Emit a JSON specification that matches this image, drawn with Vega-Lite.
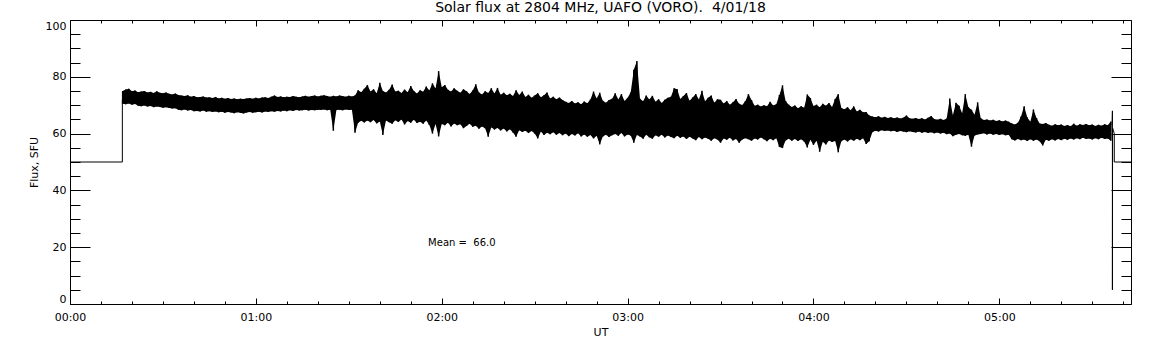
{
 "$schema": "https://vega.github.io/schema/vega-lite/v6.json",
 "width": 1061,
 "height": 284,
 "autosize": {"type": "none"},
 "padding": {"left": 70, "top": 20, "right": 21, "bottom": 41},
 "background": "white",
 "title": {"text": "Solar flux at 2804 MHz, UAFO (VORO).\u00a0 4/01/18", "font": "DejaVu Sans", "fontSize": 14, "fontWeight": "normal", "color": "black", "anchor": "middle", "baseline": "alphabetic", "offset": -6},
 "config": {
  "view": {"stroke": null},
  "axis": {"domainColor": "black", "tickColor": "black", "labelColor": "black", "titleColor": "black", "labelFont": "DejaVu Sans", "titleFont": "DejaVu Sans", "labelFontSize": 11, "titleFontSize": 11, "titleFontWeight": "normal", "grid": false, "tickWidth": 1, "domainWidth": 1, "labelOverlap": false}
 },
 "datasets": {
  "env": [
   {"m":17,"lo":70.5,"hi":75.0},{"m":18,"lo":70.3,"hi":75.5},{"m":19,"lo":70.6,"hi":75.8},{"m":20,"lo":70.2,"hi":74.9},{"m":21,"lo":70.4,"hi":75.2},
   {"m":22,"lo":69.8,"hi":74.6},{"m":23,"lo":69.6,"hi":74.8},{"m":24,"lo":69.9,"hi":75.0},{"m":25,"lo":69.5,"hi":74.5},{"m":26,"lo":69.7,"hi":74.7},
   {"m":27,"lo":69.3,"hi":74.3},{"m":28,"lo":69.5,"hi":74.9},{"m":29,"lo":69.4,"hi":74.4},{"m":30,"lo":69.1,"hi":74.2},{"m":31,"lo":69.3,"hi":74.5},
   {"m":32,"lo":69.0,"hi":74.0},{"m":33,"lo":68.8,"hi":73.8},{"m":34,"lo":68.9,"hi":74.1},{"m":35,"lo":68.4,"hi":73.6},{"m":36,"lo":68.2,"hi":73.4},
   {"m":37,"lo":68.5,"hi":73.2},{"m":38,"lo":68.1,"hi":73.5},{"m":39,"lo":68.3,"hi":73.0},{"m":40,"lo":67.9,"hi":73.2},{"m":41,"lo":68.0,"hi":72.8},
   {"m":42,"lo":67.8,"hi":72.9},{"m":43,"lo":68.1,"hi":73.1},{"m":44,"lo":67.7,"hi":72.7},{"m":45,"lo":67.9,"hi":72.8},{"m":46,"lo":67.6,"hi":72.5},
   {"m":47,"lo":67.8,"hi":72.9},{"m":48,"lo":67.5,"hi":72.4},{"m":49,"lo":67.7,"hi":72.6},{"m":50,"lo":67.3,"hi":72.3},{"m":51,"lo":67.6,"hi":72.5},
   {"m":52,"lo":67.4,"hi":72.2},{"m":53,"lo":67.2,"hi":72.4},{"m":54,"lo":67.5,"hi":72.1},{"m":55,"lo":67.3,"hi":72.3},{"m":56,"lo":67.1,"hi":72.2},
   {"m":57,"lo":67.4,"hi":72.4},{"m":58,"lo":67.6,"hi":72.5},{"m":59,"lo":67.3,"hi":72.3},{"m":60,"lo":67.5,"hi":72.6},{"m":61,"lo":67.7,"hi":72.4},
   {"m":62,"lo":67.4,"hi":72.7},{"m":63,"lo":67.8,"hi":72.8},{"m":64,"lo":67.6,"hi":72.5},{"m":65,"lo":67.9,"hi":73.0},{"m":66,"lo":67.7,"hi":73.4},
   {"m":67,"lo":68.0,"hi":72.9},{"m":68,"lo":67.8,"hi":73.1},{"m":69,"lo":68.1,"hi":72.8},{"m":70,"lo":67.9,"hi":73.0},{"m":71,"lo":68.2,"hi":72.9},
   {"m":72,"lo":68.0,"hi":73.2},{"m":73,"lo":68.3,"hi":73.0},{"m":74,"lo":68.1,"hi":72.8},{"m":75,"lo":68.2,"hi":73.1},{"m":76,"lo":68.4,"hi":73.3},
   {"m":77,"lo":68.1,"hi":73.0},{"m":78,"lo":68.3,"hi":73.2},{"m":79,"lo":68.2,"hi":73.4},{"m":80,"lo":68.4,"hi":73.1},{"m":81,"lo":68.3,"hi":73.3},
   {"m":82,"lo":68.5,"hi":73.5},{"m":83,"lo":68.2,"hi":73.2},{"m":84,"lo":68.4,"hi":73.0},{"m":85,"lo":61.0,"hi":73.3},{"m":86,"lo":68.3,"hi":73.1},
   {"m":87,"lo":68.4,"hi":73.4},{"m":88,"lo":68.2,"hi":73.2},{"m":89,"lo":68.5,"hi":73.0},{"m":90,"lo":68.3,"hi":73.3},{"m":91,"lo":68.4,"hi":73.1},
   {"m":92,"lo":60.3,"hi":73.4},
   {"m":93,"lo":63.8,"hi":75.3},{"m":94,"lo":64.5,"hi":74.6},{"m":95,"lo":63.9,"hi":75.8},{"m":96,"lo":64.6,"hi":77.1},{"m":97,"lo":64.0,"hi":74.8},
   {"m":98,"lo":64.8,"hi":75.6},{"m":99,"lo":63.6,"hi":74.2},{"m":100,"lo":64.3,"hi":77.9},{"m":101,"lo":59.5,"hi":75.0},{"m":102,"lo":64.6,"hi":74.5},
   {"m":103,"lo":64.0,"hi":75.4},{"m":104,"lo":63.5,"hi":77.3},{"m":105,"lo":64.7,"hi":74.8},{"m":106,"lo":64.1,"hi":75.1},{"m":107,"lo":65.0,"hi":74.3},
   {"m":108,"lo":63.2,"hi":75.5},{"m":109,"lo":64.4,"hi":74.6},{"m":110,"lo":63.8,"hi":76.8},{"m":111,"lo":64.9,"hi":75.0},{"m":112,"lo":63.7,"hi":74.1},
   {"m":113,"lo":64.2,"hi":75.3},{"m":114,"lo":63.5,"hi":74.7},{"m":115,"lo":64.6,"hi":76.6},{"m":116,"lo":63.0,"hi":75.2},{"m":117,"lo":60.0,"hi":77.7},
   {"m":118,"lo":63.4,"hi":75.9},{"m":119,"lo":59.0,"hi":82.0},{"m":120,"lo":63.4,"hi":76.3},{"m":121,"lo":62.9,"hi":77.1},{"m":122,"lo":63.8,"hi":75.4},
   {"m":123,"lo":62.5,"hi":74.8},{"m":124,"lo":63.6,"hi":76.0},{"m":125,"lo":62.9,"hi":75.1},{"m":126,"lo":63.3,"hi":74.4},{"m":127,"lo":61.9,"hi":75.6},
   {"m":128,"lo":62.7,"hi":74.9},{"m":129,"lo":63.5,"hi":73.9},{"m":130,"lo":62.4,"hi":75.2},{"m":131,"lo":62.8,"hi":77.4},{"m":132,"lo":61.7,"hi":74.5},
   {"m":133,"lo":62.5,"hi":73.8},{"m":134,"lo":61.9,"hi":74.9},{"m":135,"lo":58.9,"hi":74.3},{"m":136,"lo":62.2,"hi":76.0},{"m":137,"lo":61.4,"hi":74.1},
   {"m":138,"lo":62.0,"hi":76.1},{"m":139,"lo":61.1,"hi":73.7},{"m":140,"lo":61.8,"hi":74.4},{"m":141,"lo":60.7,"hi":73.5},{"m":142,"lo":61.5,"hi":74.0},
   {"m":143,"lo":60.4,"hi":73.2},{"m":144,"lo":58.9,"hi":75.3},{"m":145,"lo":61.2,"hi":73.6},{"m":146,"lo":60.6,"hi":74.8},{"m":147,"lo":61.0,"hi":72.9},
   {"m":148,"lo":60.2,"hi":73.7},{"m":149,"lo":60.9,"hi":72.6},{"m":150,"lo":60.0,"hi":73.4},{"m":151,"lo":58.3,"hi":74.2},{"m":152,"lo":60.7,"hi":72.8},
   {"m":153,"lo":59.5,"hi":73.5},{"m":154,"lo":60.3,"hi":74.5},{"m":155,"lo":59.8,"hi":72.4},{"m":156,"lo":60.5,"hi":73.0},{"m":157,"lo":59.6,"hi":72.1},
   {"m":158,"lo":60.2,"hi":72.7},{"m":159,"lo":59.4,"hi":71.8},{"m":160,"lo":60.0,"hi":71.2},{"m":161,"lo":59.1,"hi":70.8},{"m":162,"lo":59.9,"hi":71.5},
   {"m":163,"lo":59.3,"hi":70.6},{"m":164,"lo":60.1,"hi":71.0},{"m":165,"lo":59.0,"hi":70.3},{"m":166,"lo":59.7,"hi":71.3},{"m":167,"lo":58.9,"hi":70.7},
   {"m":168,"lo":59.5,"hi":72.0},{"m":169,"lo":58.3,"hi":74.8},{"m":170,"lo":59.2,"hi":72.4},{"m":171,"lo":56.2,"hi":74.4},{"m":172,"lo":59.0,"hi":71.6},
   {"m":173,"lo":59.6,"hi":70.9},{"m":174,"lo":58.8,"hi":71.8},{"m":175,"lo":59.4,"hi":72.3},{"m":176,"lo":59.9,"hi":74.2},{"m":177,"lo":59.2,"hi":72.0},
   {"m":178,"lo":60.2,"hi":73.9},{"m":179,"lo":59.0,"hi":71.5},{"m":180,"lo":59.7,"hi":72.6},{"m":181,"lo":59.3,"hi":74.5},{"m":182,"lo":56.8,"hi":82.5},
   {"m":183,"lo":59.5,"hi":85.6},{"m":184,"lo":59.0,"hi":72.3},{"m":185,"lo":58.2,"hi":71.4},{"m":186,"lo":59.6,"hi":73.4},{"m":187,"lo":58.7,"hi":72.0},
   {"m":188,"lo":58.2,"hi":73.3},{"m":189,"lo":59.4,"hi":71.2},{"m":190,"lo":58.9,"hi":72.1},{"m":191,"lo":59.6,"hi":70.8},{"m":192,"lo":58.6,"hi":71.9},
   {"m":193,"lo":59.3,"hi":72.6},{"m":194,"lo":58.8,"hi":73.0},{"m":195,"lo":58.4,"hi":76.0},{"m":196,"lo":59.2,"hi":75.6},{"m":197,"lo":58.5,"hi":72.2},
   {"m":198,"lo":59.0,"hi":73.2},{"m":199,"lo":58.1,"hi":74.3},{"m":200,"lo":58.9,"hi":71.6},{"m":201,"lo":58.3,"hi":72.7},{"m":202,"lo":57.7,"hi":73.9},
   {"m":203,"lo":58.8,"hi":72.0},{"m":204,"lo":58.0,"hi":75.1},{"m":205,"lo":58.6,"hi":71.4},{"m":206,"lo":58.2,"hi":72.6},{"m":207,"lo":57.5,"hi":73.4},
   {"m":208,"lo":58.4,"hi":70.9},{"m":209,"lo":57.9,"hi":72.1},{"m":210,"lo":56.8,"hi":71.9},{"m":211,"lo":58.3,"hi":70.6},{"m":212,"lo":57.8,"hi":71.5},
   {"m":213,"lo":58.5,"hi":70.2},{"m":214,"lo":57.6,"hi":71.0},{"m":215,"lo":58.1,"hi":72.2},{"m":216,"lo":56.8,"hi":70.5},{"m":217,"lo":57.9,"hi":70.1},
   {"m":218,"lo":58.4,"hi":71.4},{"m":219,"lo":58.0,"hi":73.9},{"m":220,"lo":57.5,"hi":71.8},{"m":221,"lo":58.3,"hi":69.8},{"m":222,"lo":57.9,"hi":70.2},
   {"m":223,"lo":58.6,"hi":69.5},{"m":224,"lo":58.0,"hi":70.0},{"m":225,"lo":57.3,"hi":69.6},{"m":226,"lo":58.2,"hi":71.2},{"m":227,"lo":57.7,"hi":69.9},
   {"m":228,"lo":58.4,"hi":70.3},{"m":229,"lo":55.3,"hi":73.6},{"m":230,"lo":54.9,"hi":77.0},{"m":231,"lo":57.6,"hi":71.5},{"m":232,"lo":58.2,"hi":70.2},
   {"m":233,"lo":57.5,"hi":69.4},{"m":234,"lo":58.1,"hi":69.9},{"m":235,"lo":57.4,"hi":68.9},{"m":236,"lo":58.0,"hi":69.6},{"m":237,"lo":57.2,"hi":69.1},
   {"m":238,"lo":55.1,"hi":73.8},{"m":239,"lo":57.8,"hi":72.5},{"m":240,"lo":56.0,"hi":69.7},{"m":241,"lo":57.5,"hi":70.2},{"m":242,"lo":53.6,"hi":69.3},
   {"m":243,"lo":57.1,"hi":70.5},{"m":244,"lo":56.2,"hi":69.8},{"m":245,"lo":57.6,"hi":70.8},{"m":246,"lo":57.0,"hi":69.4},{"m":247,"lo":57.4,"hi":72.2},
   {"m":248,"lo":53.4,"hi":73.9},{"m":249,"lo":57.3,"hi":69.0},{"m":250,"lo":57.9,"hi":68.6},{"m":251,"lo":57.2,"hi":69.3},{"m":252,"lo":58.0,"hi":68.2},
   {"m":253,"lo":57.5,"hi":69.6},{"m":254,"lo":58.2,"hi":67.8},{"m":255,"lo":57.7,"hi":68.4},{"m":256,"lo":58.4,"hi":67.5},{"m":257,"lo":56.3,"hi":67.6},
   {"m":258,"lo":57.3,"hi":66.4},
   {"m":259,"lo":60.5,"hi":66.0},{"m":260,"lo":61.0,"hi":65.8},{"m":261,"lo":60.7,"hi":66.1},{"m":262,"lo":61.2,"hi":65.6},{"m":263,"lo":60.9,"hi":65.9},
   {"m":264,"lo":61.1,"hi":65.5},{"m":265,"lo":60.8,"hi":65.8},{"m":266,"lo":61.0,"hi":65.4},{"m":267,"lo":60.6,"hi":65.7},{"m":268,"lo":60.9,"hi":65.3},
   {"m":269,"lo":60.7,"hi":65.6},{"m":270,"lo":60.5,"hi":66.4},{"m":271,"lo":60.8,"hi":65.4},{"m":272,"lo":60.6,"hi":65.2},{"m":273,"lo":60.4,"hi":65.5},
   {"m":274,"lo":60.7,"hi":65.1},{"m":275,"lo":60.3,"hi":65.4},{"m":276,"lo":60.6,"hi":65.0},{"m":277,"lo":60.2,"hi":65.6},{"m":278,"lo":60.5,"hi":66.2},
   {"m":279,"lo":60.1,"hi":65.1},{"m":280,"lo":60.4,"hi":64.9},{"m":281,"lo":60.0,"hi":65.2},{"m":282,"lo":60.3,"hi":64.8},{"m":283,"lo":59.8,"hi":65.3},
   {"m":284,"lo":60.0,"hi":72.4},{"m":285,"lo":59.1,"hi":66.5},{"m":286,"lo":59.6,"hi":70.9},{"m":287,"lo":59.9,"hi":69.8},{"m":288,"lo":59.4,"hi":67.2},
   {"m":289,"lo":59.2,"hi":73.9},{"m":290,"lo":59.6,"hi":69.3},{"m":291,"lo":55.4,"hi":68.4},{"m":292,"lo":59.3,"hi":66.6},{"m":293,"lo":59.7,"hi":71.0},
   {"m":294,"lo":59.9,"hi":65.4},{"m":295,"lo":60.1,"hi":64.8},{"m":296,"lo":59.7,"hi":65.0},{"m":297,"lo":60.0,"hi":64.6},{"m":298,"lo":59.6,"hi":64.9},
   {"m":299,"lo":59.9,"hi":64.4},{"m":300,"lo":59.5,"hi":64.7},{"m":301,"lo":59.8,"hi":64.3},{"m":302,"lo":59.4,"hi":64.6},{"m":303,"lo":59.6,"hi":64.2},
   {"m":304,"lo":58.0,"hi":63.6},{"m":305,"lo":57.6,"hi":63.2},{"m":306,"lo":58.1,"hi":63.8},{"m":307,"lo":57.7,"hi":66.0},{"m":308,"lo":57.9,"hi":69.6},
   {"m":309,"lo":57.4,"hi":65.8},{"m":310,"lo":58.0,"hi":64.2},{"m":311,"lo":57.5,"hi":68.5},{"m":312,"lo":57.9,"hi":65.5},{"m":313,"lo":57.3,"hi":63.6},
   {"m":314,"lo":55.8,"hi":63.4},{"m":315,"lo":57.8,"hi":63.7},{"m":316,"lo":57.5,"hi":63.1},{"m":317,"lo":58.0,"hi":62.8},{"m":318,"lo":57.6,"hi":63.3},
   {"m":319,"lo":58.1,"hi":62.9},{"m":320,"lo":57.7,"hi":63.2},{"m":321,"lo":58.2,"hi":62.7},{"m":322,"lo":57.8,"hi":63.0},{"m":323,"lo":58.3,"hi":62.6},
   {"m":324,"lo":57.9,"hi":63.5},{"m":325,"lo":58.4,"hi":62.8},{"m":326,"lo":58.0,"hi":63.3},{"m":327,"lo":58.5,"hi":63.0},{"m":328,"lo":58.1,"hi":63.4},
   {"m":329,"lo":58.3,"hi":62.9},{"m":330,"lo":57.9,"hi":63.2},{"m":331,"lo":58.4,"hi":62.7},{"m":332,"lo":58.0,"hi":63.1},{"m":333,"lo":58.5,"hi":62.8},
   {"m":334,"lo":58.1,"hi":63.3},{"m":335,"lo":58.3,"hi":62.9},{"m":336,"lo":57.5,"hi":64.3}
  ],
  "steps": [
   {"i":1,"seg":"start","m":0,"v":50},{"i":2,"seg":"start","m":16.9,"v":50},{"i":3,"seg":"start","m":16.9,"v":72},
   {"i":4,"seg":"end","m":336.4,"v":63},{"i":5,"seg":"end","m":336.5,"v":68},{"i":6,"seg":"end","m":336.5,"v":5},{"i":7,"seg":"end","m":336.55,"v":62},
   {"i":8,"seg":"end","m":337.1,"v":60},{"i":9,"seg":"end","m":337.1,"v":50},{"i":10,"seg":"end","m":342.5,"v":50}
  ],
  "note": [{"m":115.6,"v":21.5,"label":"Mean =\u00a0\u00a066.0"}]
 },
 "layer": [
  {
   "data": {"name": "env"},
   "mark": {"type": "area", "color": "black", "opacity": 1, "interpolate": "linear"},
   "encoding": {
    "x": {"field": "m", "type": "quantitative", "scale": {"domain": [0, 342.5], "nice": false, "zero": false},
      "axis": {"orient": "bottom", "values": [0, 60, 120, 180, 240, 300], "labelExpr": "'0' + floor(datum.value / 60) + ':00'", "tickSize": -6, "labelPadding": 13, "labelFlush": false, "title": "UT", "titlePadding": 4}},
    "y": {"field": "lo", "type": "quantitative", "scale": {"domain": [0, 100], "nice": false, "zero": false},
      "axis": {"orient": "left", "values": [0, 20, 40, 60, 80, 100], "tickSize": -20, "labelPadding": 24, "labelFlush": true, "title": "Flux, SFU", "titlePadding": 6}},
    "y2": {"field": "hi"}
   }
  },
  {
   "data": {"name": "env"},
   "mark": {"type": "rule", "color": "black", "strokeWidth": 1.5},
   "encoding": {
    "x": {"field": "m", "type": "quantitative", "scale": {"domain": [0, 342.5], "nice": false, "zero": false},
      "axis": {"orient": "top", "values": [0, 60, 120, 180, 240, 300], "labels": false, "tickSize": -6, "title": null}},
    "y": {"field": "lo", "type": "quantitative", "scale": {"domain": [0, 100], "nice": false, "zero": false},
      "axis": {"orient": "right", "values": [0, 20, 40, 60, 80, 100], "labels": false, "tickSize": -20, "title": null}},
    "y2": {"field": "hi"}
   }
  },
  {
   "data": {"name": "note"},
   "mark": {"type": "text", "color": "black", "font": "DejaVu Sans", "fontSize": 10, "align": "left", "baseline": "middle"},
   "encoding": {
    "x": {"field": "m", "type": "quantitative", "scale": {"domain": [0, 342.5], "nice": false, "zero": false},
      "axis": {"orient": "bottom", "values": [10,20,30,40,50,70,80,90,100,110,130,140,150,160,170,190,200,210,220,230,250,260,270,280,290,310,320,330,340], "labels": false, "domain": false, "tickSize": -3, "title": null}},
    "y": {"field": "v", "type": "quantitative", "scale": {"domain": [0, 100], "nice": false, "zero": false},
      "axis": {"orient": "left", "values": [5,10,15,25,30,35,45,50,55,65,70,75,85,90,95], "labels": false, "domain": false, "tickSize": -10, "title": null}},
    "text": {"field": "label"}
   }
  },
  {
   "data": {"name": "steps"},
   "mark": {"type": "line", "color": "black", "strokeWidth": 1},
   "encoding": {
    "x": {"field": "m", "type": "quantitative", "scale": {"domain": [0, 342.5], "nice": false, "zero": false},
      "axis": {"orient": "top", "values": [10,20,30,40,50,70,80,90,100,110,130,140,150,160,170,190,200,210,220,230,250,260,270,280,290,310,320,330,340], "labels": false, "domain": false, "tickSize": -3, "title": null}},
    "y": {"field": "v", "type": "quantitative", "scale": {"domain": [0, 100], "nice": false, "zero": false},
      "axis": {"orient": "right", "values": [5,10,15,25,30,35,45,50,55,65,70,75,85,90,95], "labels": false, "domain": false, "tickSize": -10, "title": null}},
    "detail": {"field": "seg"},
    "order": {"field": "i"}
   }
  }
 ],
 "resolve": {"axis": {"x": "independent", "y": "independent"}}
}
